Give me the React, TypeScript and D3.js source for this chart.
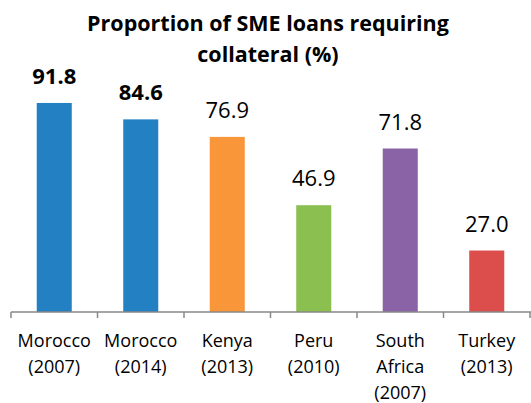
import * as React from "react";
import * as d3 from "d3";

const categories = [
  ["Morocco", "(2007)"],
  ["Morocco", "(2014)"],
  ["Kenya", "(2013)"],
  ["Peru", "(2010)"],
  ["South", "Africa", "(2007)"],
  ["Turkey", "(2013)"],
];
const values = [91.8, 84.6, 76.9, 46.9, 71.8, 27.0];
const colors = ["#2381C3", "#2381C3", "#F9963A", "#8BBF4F", "#8963A5", "#DC4E4B"];
const boldLabel = [true, true, false, false, false, false];
const titleLines = ["Proportion of SME loans requiring", "collateral (%)"];

const W = 531;
const H = 403;
const FONT = "'Open Sans', sans-serif";

export default function App() {
  const x = d3.scaleBand<number>()
    .domain(d3.range(values.length))
    .range([11, 530])
    .paddingInner(0.595)
    .paddingOuter(0.2975);
  const y = d3.scaleLinear().domain([0, 100]).range([312, 84.3]);
  const step = x.step();
  const ticks = d3.range(values.length + 1).map(i => 11 + i * step);

  return (
    <svg width={W} height={H} style={{ position: "absolute", left: 0, top: 0 }}>
      <rect width={W} height={H} fill="#fff" />
      {titleLines.map((t, i) => (
        <text key={i} x={268} y={31 + i * 31} textAnchor="middle"
          fontFamily={FONT} fontWeight="bold" fontSize={21.5} fill="#000">{t}</text>
      ))}
      {values.map((v, i) => (
        <g key={i}>
          <rect x={x(i)} y={y(v)} width={x.bandwidth()} height={y(0) - y(v)} fill={colors[i]} />
          <text x={x(i)! + x.bandwidth() / 2} y={y(v) - 19} textAnchor="middle"
            fontFamily={FONT} fontWeight={boldLabel[i] ? "bold" : "normal"}
            fontSize={22} fill="#000">{v.toFixed(1)}</text>
        </g>
      ))}
      <line x1={11} x2={531} y1={y(0)} y2={y(0)} stroke="#888" strokeWidth={1.5} />
      {ticks.map((t, i) => (
        <line key={i} x1={t} x2={t} y1={y(0)} y2={y(0) + 6} stroke="#888" strokeWidth={1.5} />
      ))}
      {categories.map((lines, i) => (
        <text key={i} textAnchor="middle" fontFamily={FONT} fontSize={18} fill="#000">
          {lines.map((l, j) => (
            <tspan key={j} x={x(i)! + x.bandwidth() / 2} y={347 + j * 26}>{l}</tspan>
          ))}
        </text>
      ))}
    </svg>
  );
}
